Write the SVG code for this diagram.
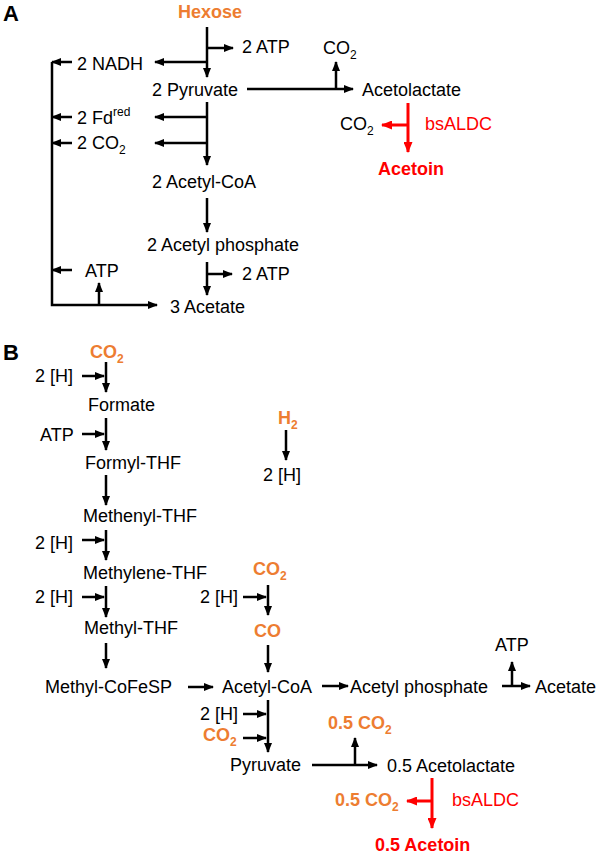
<svg xmlns="http://www.w3.org/2000/svg" width="600" height="854" viewBox="0 0 600 854">
<defs>
<marker id="ah" markerUnits="userSpaceOnUse" markerWidth="10" markerHeight="8" refX="9" refY="4" orient="auto"><path d="M0,0 L10,4 L0,8 Z" fill="#000"/></marker>
<marker id="ahr" markerUnits="userSpaceOnUse" markerWidth="11" markerHeight="9" refX="10" refY="4.5" orient="auto"><path d="M0,0 L11,4.5 L0,9 Z" fill="#f00"/></marker>
<style>
text{font-family:"Liberation Sans",Arial,sans-serif;font-size:18px;fill:#000}
.o{fill:#ED7D31;font-weight:bold}
.r{fill:#f00}
.b{font-weight:bold}
.lbl{font-weight:bold;font-size:22px}
.c path{fill:none;stroke:#000;stroke-width:2.5}
.c path.a{marker-end:url(#ah)}
.c path.red{stroke:#f00;stroke-width:3;marker-end:url(#ahr)}
</style>
</defs>
<rect width="600" height="854" fill="#fff"/>
<text class="lbl" x="3" y="21">A</text>
<text class="lbl" x="3" y="360">B</text>
<g class="c" id="connectors">
<path class="a" d="M207,27V77"/><path class="a" d="M207,48H233"/><path class="a" d="M207,62H155"/>
<path class="a" d="M52,62V305H157"/>
<path class="a" d="M72,62H52"/><path class="a" d="M72,117H52"/><path class="a" d="M72,143H52"/><path class="a" d="M72,270H52"/>
<path class="a" d="M247,89H353"/><path class="a" d="M336,89V62"/>
<path class="a" d="M207,102V165"/><path class="a" d="M207,117H155"/><path class="a" d="M207,143H155"/>
<path class="a" d="M207,198V232"/><path class="a" d="M207,262V295"/><path class="a" d="M207,274H232"/>
<path class="a" d="M99,305V283"/>
<path class="red" d="M408,103V152"/><path class="red" d="M408,125H382"/>
<path class="a" d="M106,362V392"/><path class="a" d="M82,376H104"/>
<path class="a" d="M106,418V450"/><path class="a" d="M82,434H104"/>
<path class="a" d="M106,475V505"/>
<path class="a" d="M106,530V560"/><path class="a" d="M82,540H104"/>
<path class="a" d="M106,586V617"/><path class="a" d="M82,597H104"/>
<path class="a" d="M286,430V460"/>
<path class="a" d="M268,585V615"/><path class="a" d="M243,597H266"/>
<path class="a" d="M268,645V672"/>
<path class="a" d="M106,643V668"/>
<path class="a" d="M188,687H213"/><path class="a" d="M322,686H348"/><path class="a" d="M502,686H530"/><path class="a" d="M512,686V662"/>
<path class="a" d="M268,700V752"/><path class="a" d="M243,714H266"/><path class="a" d="M243,738H266"/>
<path class="a" d="M312,765H377"/><path class="a" d="M355,765V738"/>
<path class="red" d="M432,778V828"/><path class="red" d="M432,801H407"/>
</g>
<g id="hexose"><text class="o" x="178" y="18">Hexose</text></g>
<g id="atpA1"><text x="242" y="53">2 ATP</text></g>
<g id="nadh"><text x="77" y="70">2 NADH</text></g>
<g id="pyrA"><text x="152" y="96">2 Pyruvate</text></g>
<g id="co2A1"><text x="323" y="54">CO<tspan font-size="12" dy="5">2</tspan></text></g>
<g id="acetolactateA"><text x="362" y="96">Acetolactate</text></g>
<g id="co2A2"><text x="340" y="130">CO<tspan font-size="12" dy="5">2</tspan></text></g>
<g id="aldcA"><text class="r" x="425" y="130">bsALDC</text></g>
<g id="acetoinA"><text class="r b" x="378" y="175">Acetoin</text></g>
<g id="fd"><text x="77" y="124">2 Fd<tspan font-size="12" dy="-8">red</tspan></text></g>
<g id="co2A3"><text x="77" y="149">2 CO<tspan font-size="12" dy="5">2</tspan></text></g>
<g id="acoaA"><text x="152" y="188">2 Acetyl-CoA</text></g>
<g id="acpA"><text x="147" y="251">2 Acetyl phosphate</text></g>
<g id="atpA2"><text x="242" y="280">2 ATP</text></g>
<g id="atpA3"><text x="85" y="277">ATP</text></g>
<g id="acetateA"><text x="170" y="313">3 Acetate</text></g>
<g id="co2B1"><text class="o" x="90" y="358">CO<tspan font-size="12" dy="5">2</tspan></text></g>
<g id="hB1"><text x="35" y="382">2 [H]</text></g>
<g id="formate"><text x="88" y="411">Formate</text></g>
<g id="atpB1"><text x="40" y="441">ATP</text></g>
<g id="formylthf"><text x="85" y="469">Formyl-THF</text></g>
<g id="h2"><text class="o" x="278" y="424">H<tspan font-size="12" dy="5">2</tspan></text></g>
<g id="hB2"><text x="263" y="481">2 [H]</text></g>
<g id="methenyl"><text x="83" y="522">Methenyl-THF</text></g>
<g id="hB3"><text x="35" y="549">2 [H]</text></g>
<g id="methylene"><text x="83" y="579">Methylene-THF</text></g>
<g id="co2B2"><text class="o" x="253" y="575">CO<tspan font-size="12" dy="5">2</tspan></text></g>
<g id="hB4"><text x="35" y="603">2 [H]</text></g>
<g id="hB5"><text x="200" y="603">2 [H]</text></g>
<g id="methylthf"><text x="84" y="634">Methyl-THF</text></g>
<g id="co"><text class="o" x="254" y="637">CO</text></g>
<g id="mcfesp"><text x="45" y="693">Methyl-CoFeSP</text></g>
<g id="acoaB"><text x="222" y="693">Acetyl-CoA</text></g>
<g id="acpB"><text x="350" y="693">Acetyl phosphate</text></g>
<g id="atpB2"><text x="495" y="651">ATP</text></g>
<g id="acetateB"><text x="535" y="693">Acetate</text></g>
<g id="hB6"><text x="200" y="720">2 [H]</text></g>
<g id="co2B3"><text class="o" x="203" y="741">CO<tspan font-size="12" dy="5">2</tspan></text></g>
<g id="pyrB"><text x="230" y="771">Pyruvate</text></g>
<g id="co2B4"><text class="o" x="328" y="729">0.5 CO<tspan font-size="12" dy="5">2</tspan></text></g>
<g id="acetolactateB"><text x="387" y="772">0.5 Acetolactate</text></g>
<g id="co2B5"><text class="o" x="335" y="806">0.5 CO<tspan font-size="12" dy="5">2</tspan></text></g>
<g id="aldcB"><text class="r" x="452" y="806">bsALDC</text></g>
<g id="acetoinB"><text class="r b" x="375" y="851">0.5 Acetoin</text></g>
</svg>
